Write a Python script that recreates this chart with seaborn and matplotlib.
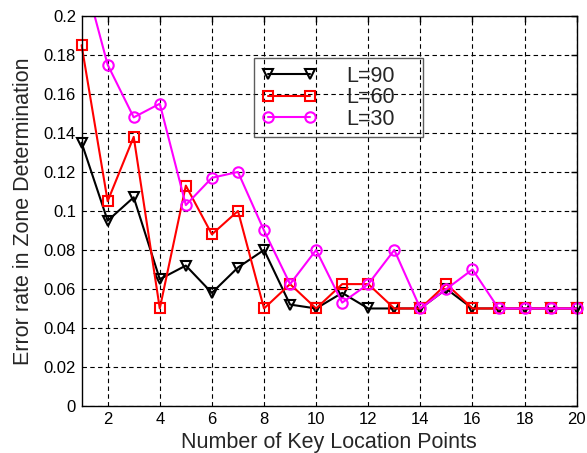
import numpy as np
import pandas as pd
import matplotlib
matplotlib.use("Agg")
import matplotlib.pyplot as plt
from matplotlib.patches import Rectangle
import seaborn as sns

x_points = list(range(1, 21))
l90 = [0.135, 0.095, 0.107, 0.065, 0.072, 0.058, 0.071, 0.080, 0.052, 0.050,
       0.058, 0.050, 0.050, 0.050, 0.060, 0.050, 0.050, 0.050, 0.050, 0.050]
l60 = [0.185, 0.105, 0.138, 0.050, 0.113, 0.088, 0.100, 0.050, 0.0625, 0.050,
       0.0625, 0.0625, 0.050, 0.050, 0.0625, 0.050, 0.050, 0.050, 0.050, 0.050]
l30 = [0.225, 0.175, 0.148, 0.155, 0.103, 0.117, 0.120, 0.090, 0.0625, 0.080,
       0.053, 0.0625, 0.080, 0.050, 0.060, 0.070, 0.050, 0.050, 0.050, 0.050]
labels = ["L=90", "L=60", "L=30"]
colors = ["black", "#ff0000", "#ff00ff"]
markers = ["v", "s", "o"]

sns.set_style("white")
plt.rcParams["font.family"] = ["Liberation Sans", "DejaVu Sans"]

fig = plt.figure(figsize=(5.87, 4.53), dpi=100)
ax = fig.add_axes([0.139, 0.1038, 0.8435, 0.861])

for vals, lab, col, mk in zip([l90, l60, l30], labels, colors, markers):
    df = pd.DataFrame({"x": x_points, "y": vals})
    sns.lineplot(data=df, x="x", y="y", ax=ax, color=col, marker=mk,
                 markersize=7.5, mfc="none", mec=col, mew=1.5, lw=1.5,
                 label=lab)

clip_rect = Rectangle((-0.05, 0), 1.1, 1.0, transform=ax.transAxes,
                      facecolor="none", edgecolor="none")
for line in ax.lines:
    line.set_clip_path(clip_rect)

ax.set_xlim(1, 20)
ax.set_ylim(0, 0.2)
ax.set_xticks(range(2, 21, 2))
yt = np.round(np.arange(0, 0.2001, 0.02), 2)
ax.set_yticks(yt)
ax.set_yticklabels(["0" if v == 0 else f"{v:g}" for v in yt])
ax.tick_params(direction="in", top=True, right=True, labelsize=12, length=4,
               width=1, colors="black", pad=4)
ax.grid(True, color="black", linestyle=(0, (4, 3)), linewidth=0.8)
for s in ax.spines.values():
    s.set_color("black")
    s.set_linewidth(1)
ax.set_xlabel("Number of Key Location Points", fontsize=15.5, labelpad=4)
ax.set_ylabel("Error rate in Zone Determination", fontsize=15.5, labelpad=7)

leg = ax.legend(loc="upper left", bbox_to_anchor=(0.348, 0.692, 0.342, 0.2),
                mode="expand", numpoints=2,
                handlelength=2.56, handletextpad=1.4, fontsize=15.5,
                frameon=True, fancybox=False, borderpad=0.35,
                labelspacing=0.03, borderaxespad=0)
leg.get_frame().set_edgecolor("#333333")
leg.get_frame().set_facecolor("none")
leg.get_frame().set_linewidth(1.0)

fig.savefig("out.png", dpi=100)
